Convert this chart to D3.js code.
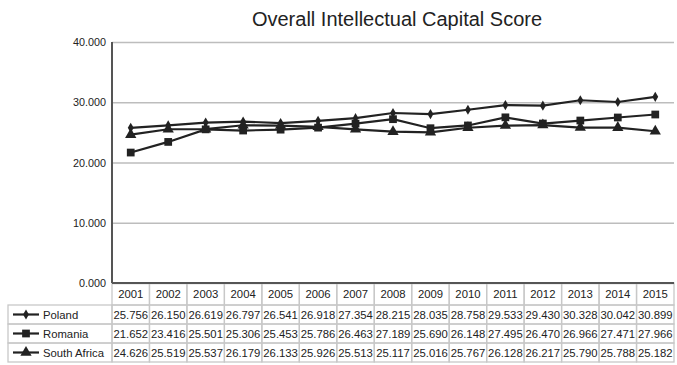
<!DOCTYPE html>
<html>
<head>
<meta charset="utf-8">
<script src="https://cdn.jsdelivr.net/npm/d3@7"></script>
<style>
  body { margin: 0; background: #fff; }
  svg { font-family: "Liberation Sans", Arial, sans-serif; }
  .grid line { stroke: #bdbdbd; stroke-width: 1.5; }
  .grid path { display: none; }
  .cell { stroke: #c8c8c8; stroke-width: 1.3; fill: none; }
</style>
</head>
<body>
<svg id="chart" width="677" height="365"></svg>
<script>
"use strict";

// chart data
const title = "Overall Intellectual Capital Score";
const years = ["2001", "2002", "2003", "2004", "2005", "2006", "2007", "2008", "2009", "2010", "2011", "2012", "2013", "2014", "2015"];
const seriesNames = ["Poland", "Romania", "South Africa"];
const poland = [25.756, 26.150, 26.619, 26.797, 26.541, 26.918, 27.354, 28.215, 28.035, 28.758, 29.533, 29.430, 30.328, 30.042, 30.899];
const romania = [21.652, 23.416, 25.501, 25.306, 25.453, 25.786, 26.463, 27.189, 25.690, 26.148, 27.495, 26.470, 26.966, 27.471, 27.966];
const southAfrica = [24.626, 25.519, 25.537, 26.179, 26.133, 25.926, 25.513, 25.117, 25.016, 25.767, 26.128, 26.217, 25.790, 25.788, 25.182];
const yTicks = [0, 10, 20, 30, 40];

const markers = [d3.symbolDiamond, d3.symbolSquare, d3.symbolTriangle];
const markerSizes = [30, 60, 55];

let svg = d3.select("#chart");

let margins = { top: 42, right: 3, bottom: 82, left: 112 };
let width = 677 - margins.left - margins.right;
let plotBottom = 365 - margins.bottom;

let xScale = d3.scaleBand().domain(years).range([margins.left, margins.left + width]);
let yScale = d3.scaleLinear().domain([0, 40]).range([plotBottom, margins.top]);

let fontSize = "11.3px";

// title
svg.append("text")
  .attr("x", 397).attr("y", 26)
  .attr("text-anchor", "middle")
  .style("font-size", "20px").style("fill", "#222")
  .text(title);

// gridlines
svg.append("g").classed("grid", true)
  .attr("transform", `translate(${margins.left},0)`)
  .call(d3.axisLeft(yScale).tickValues(yTicks).tickSize(-width).tickFormat(""));

// y tick labels
svg.append("g").selectAll("text").data(yTicks).enter().append("text")
  .attr("x", margins.left - 6).attr("y", d => yScale(d) + 4)
  .attr("text-anchor", "end")
  .style("font-size", "10.8px").style("fill", "#222")
  .text(d => d3.format(".3f")(d));

// table rows
let rowTop = plotBottom;
let headerH = 22, rowH = 19;
let rowY = (i) => rowTop + headerH + rowH * i;

let table = svg.append("g");
years.forEach((y, j) => {
  table.append("rect").classed("cell", true)
    .attr("x", xScale(y)).attr("y", rowTop)
    .attr("width", xScale.bandwidth()).attr("height", headerH);
  table.append("text")
    .attr("x", xScale(y) + xScale.bandwidth() / 2).attr("y", rowTop + 15)
    .attr("text-anchor", "middle").style("font-size", fontSize).style("fill", "#222")
    .text(y);
});

let allSeries = [poland, romania, southAfrica];
allSeries.forEach((values, i) => {
  table.append("rect").classed("cell", true)
    .attr("x", 8).attr("y", rowY(i))
    .attr("width", margins.left - 8).attr("height", rowH);
  values.forEach((v, j) => {
    table.append("rect").classed("cell", true)
      .attr("x", xScale(years[j])).attr("y", rowY(i))
      .attr("width", xScale.bandwidth()).attr("height", rowH);
    table.append("text")
      .attr("x", xScale(years[j]) + xScale.bandwidth() / 2).attr("y", rowY(i) + 13.5)
      .attr("text-anchor", "middle").style("font-size", fontSize).style("fill", "#222")
      .text(d3.format(".3f")(v));
  });

  // legend key
  let ly = rowY(i) + rowH / 2;
  table.append("line")
    .attr("x1", 13).attr("x2", 39).attr("y1", ly).attr("y2", ly)
    .style("stroke", "#222").style("stroke-width", 2.2);
  table.append("path")
    .attr("d", d3.symbol().type(markers[i]).size(markerSizes[i]))
    .attr("transform", `translate(26,${ly})`)
    .style("fill", "#222");
  table.append("text")
    .attr("x", 43).attr("y", ly + 4)
    .style("font-size", fontSize).style("fill", "#222")
    .text(seriesNames[i]);
});

// axes lines
svg.append("line")
  .attr("x1", margins.left).attr("x2", margins.left)
  .attr("y1", margins.top).attr("y2", plotBottom)
  .style("stroke", "#555").style("stroke-width", 2);
svg.append("line")
  .attr("x1", margins.left).attr("x2", margins.left + width)
  .attr("y1", plotBottom).attr("y2", plotBottom)
  .style("stroke", "#555").style("stroke-width", 2);

// series lines
let line = d3.line()
  .x((d, j) => xScale(years[j]) + xScale.bandwidth() / 2)
  .y(d => yScale(d));

allSeries.forEach((values, i) => {
  svg.append("path").datum(values)
    .attr("d", line)
    .style("fill", "none").style("stroke", "#222").style("stroke-width", 2.2);
  svg.append("g").selectAll("path").data(values).enter().append("path")
    .attr("d", d3.symbol().type(markers[i]).size(markerSizes[i]))
    .attr("transform", (d, j) => `translate(${xScale(years[j]) + xScale.bandwidth() / 2},${yScale(d)})`)
    .style("fill", "#222");
});
</script>
</body>
</html>
